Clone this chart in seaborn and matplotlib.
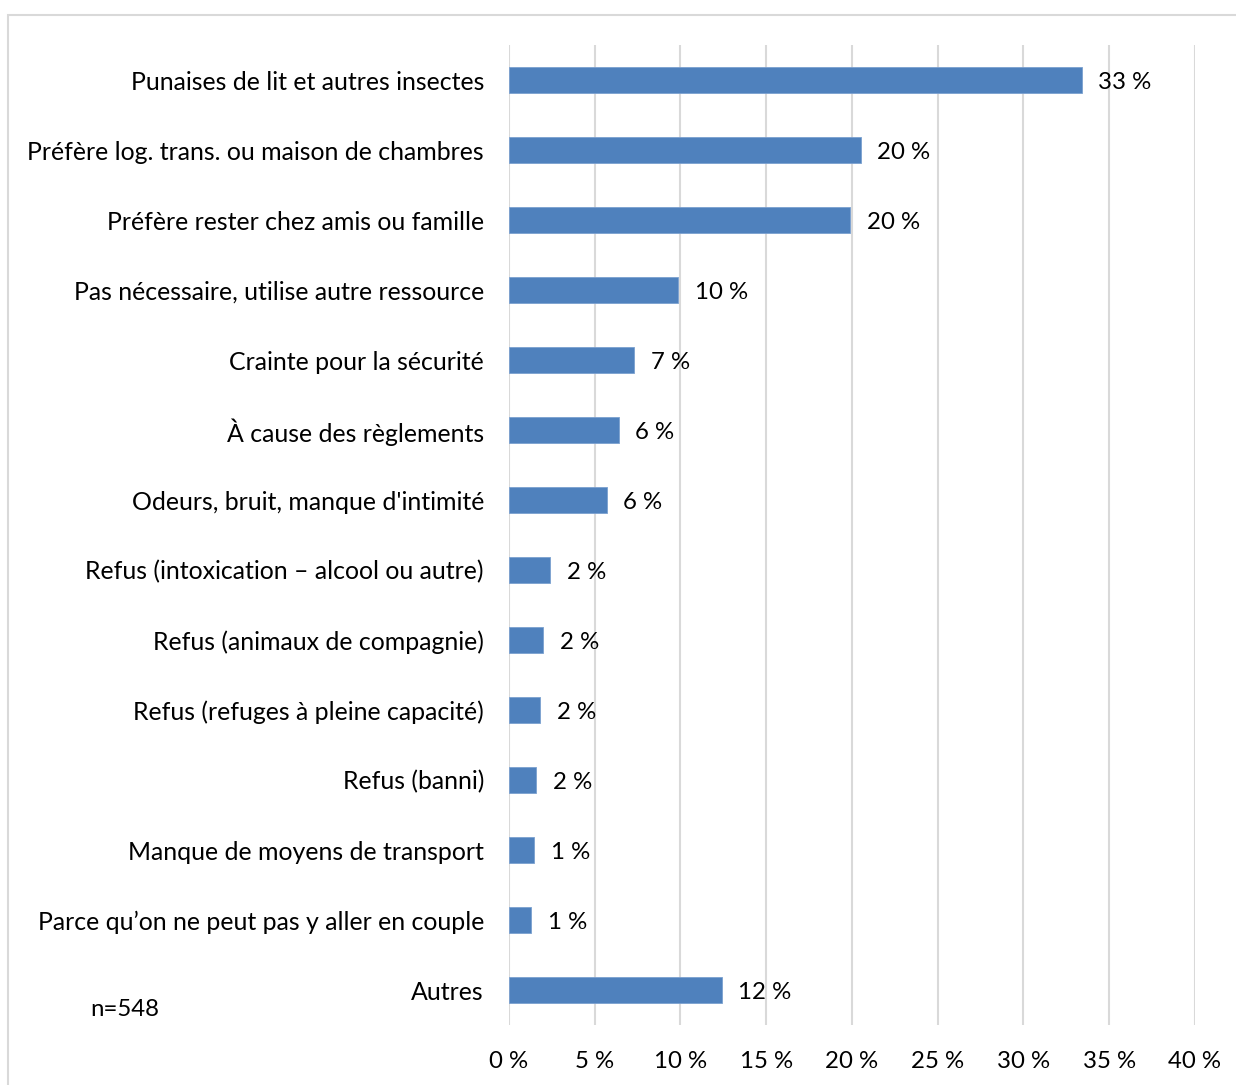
import matplotlib
matplotlib.use("Agg")
import matplotlib.pyplot as plt
from matplotlib.patches import Rectangle
import seaborn as sns
import pandas as pd

categories = [
    "Punaises de lit et autres insectes",
    "Préfère log. trans. ou maison de chambres",
    "Préfère rester chez amis ou famille",
    "Pas nécessaire, utilise autre ressource",
    "Crainte pour la sécurité",
    "À cause des règlements",
    "Odeurs, bruit, manque d'intimité",
    "Refus (intoxication – alcool ou autre)",
    "Refus (animaux de compagnie)",
    "Refus (refuges à pleine capacité)",
    "Refus (banni)",
    "Manque de moyens de transport",
    "Parce qu’on ne peut pas y aller en couple",
    "Autres",
]
values = [33.4, 20.5, 19.9, 9.85, 7.3, 6.4, 5.7, 2.4, 2.0, 1.8, 1.6, 1.46, 1.3, 12.4]
x_ticks = [0, 5, 10, 15, 20, 25, 30, 35, 40]
sample_note = "n=548"

df = pd.DataFrame({"raison": categories, "pct": values})

sns.set_theme(style="white")
plt.rcParams["font.family"] = ["Lato", "DejaVu Sans"]
FS = 17.3
FS_CAT = 17.9

fig = plt.figure(figsize=(12.36, 10.85), dpi=100)
ax = fig.add_axes([0.4118, 0.0553, 0.955 - 0.4118 + 0.0118, 0.9585 - 0.0553])

sns.barplot(data=df, y="raison", x="pct", orient="h", color="#4F81BD",
            saturation=1, width=0.36, edgecolor="#7aa0cf", linewidth=0.6,
            ax=ax, zorder=3)

ax.set_xlim(0, 40)
ax.set_ylim(len(categories) - 0.5, -0.5)
ax.set_xticks(x_ticks)
ax.set_xticklabels([f"{t} %" for t in x_ticks])
ax.xaxis.grid(True, color="#D9D9D9", linewidth=1.5, zorder=0)
ax.yaxis.grid(False)
ax.set_axisbelow(True)
for s in ax.spines.values():
    s.set_visible(False)
ax.set_xlabel("")
ax.set_ylabel("")
ax.tick_params(axis="x", length=0, pad=19, labelsize=FS, labelcolor="#000000")
ax.tick_params(axis="y", length=0, pad=18, labelsize=FS_CAT, labelcolor="#000000")

# value labels just right of each bar
for i, v in enumerate(values):
    ax.annotate(f"{round(v)} %", xy=(v, i), xytext=(12, -1.5),
                textcoords="offset points", ha="left", va="center",
                fontsize=FS, color="#000000")

fig.text(90 / 1236, 1 - 1010 / 1085, sample_note, fontsize=FS,
         ha="left", va="center", color="#000000")

# light frame around the chart area
fig.patches.append(Rectangle((8 / 1236, -0.01), 1.05, 1 - 15 / 1085 + 0.01,
                             transform=fig.transFigure, fill=False,
                             edgecolor="#D9D9D9", linewidth=1.5))

fig.savefig("out.png", dpi=100, facecolor="white")
